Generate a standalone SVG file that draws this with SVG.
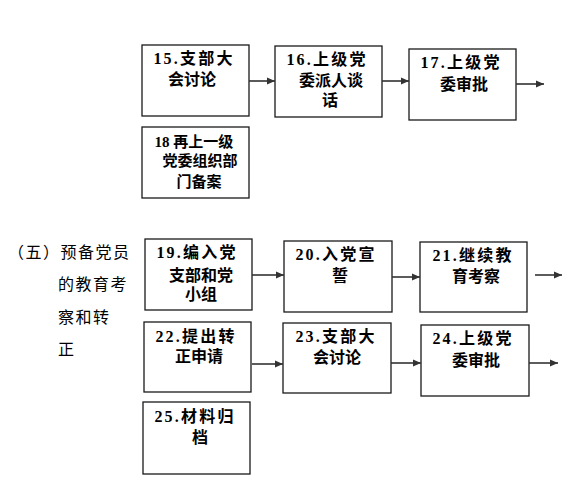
<svg xmlns="http://www.w3.org/2000/svg" width="588" height="500" viewBox="0 0 588 500">
<style>
.box{fill:#fff;stroke:#1a1a1a;stroke-width:1.3}
.t{font-family:"Liberation Serif","Noto Sans CJK SC",serif;font-weight:bold;font-size:16px;fill:#000;text-anchor:middle}
.f{letter-spacing:2.2px}
.s{font-size:15px}
.lab{font-family:"Liberation Serif","Noto Sans CJK SC",serif;font-size:16px;fill:#000;letter-spacing:1.5px}
.c{stroke:#333;stroke-width:1.6;fill:none;marker-end:url(#ah)}
</style>
<defs>
<marker id="ah" viewBox="0 0 10 10" refX="10" refY="5" markerWidth="8" markerHeight="8" markerUnits="userSpaceOnUse" orient="auto">
<path d="M0,0.5 L10,5 L0,9.5 z" fill="#333"/>
</marker>
</defs>
<g id="label">
<text class="lab" x="8" y="258">（五）预备党员</text>
<text class="lab" x="58" y="290">的教育考</text>
<text class="lab" x="58" y="323">察和转</text>
<text class="lab" x="58" y="355">正</text>
</g>
<g id="n15"><rect class="box" x="142" y="45" width="107" height="71"/>
<text class="t f" x="194" y="64">15.支部大</text><text class="t" x="192" y="85">会讨论</text></g>
<g id="n16"><rect class="box" x="275" y="46" width="107" height="71"/>
<text class="t f" x="327" y="65">16.上级党</text><text class="t" x="331" y="86">委派人谈</text><text class="t" x="330" y="106">话</text></g>
<g id="n17"><rect class="box" x="409" y="49" width="107" height="71"/>
<text class="t f" x="461" y="68">17.上级党</text><text class="t" x="464" y="90">委审批</text></g>
<g id="n18"><rect class="box" x="142" y="127" width="107" height="71"/>
<text class="t s" x="194" y="147">18 再上一级</text><text class="t s" x="200" y="166">党委组织部</text><text class="t s" x="199" y="187">门备案</text></g>
<g id="n19"><rect class="box" x="145" y="239" width="107" height="71"/>
<text class="t f" x="197" y="258">19.编入党</text><text class="t" x="201" y="281">支部和党</text><text class="t" x="201" y="300">小组</text></g>
<g id="n20"><rect class="box" x="284" y="241" width="108" height="71"/>
<text class="t f" x="336" y="260">20.入党宣</text><text class="t" x="340" y="281">誓</text></g>
<g id="n21"><rect class="box" x="420" y="242" width="107" height="70"/>
<text class="t f" x="473" y="261">21.继续教</text><text class="t" x="476" y="282">育考察</text></g>
<g id="n22"><rect class="box" x="144" y="322" width="107" height="70"/>
<text class="t f" x="196" y="342">22.提出转</text><text class="t" x="199" y="362">正申请</text></g>
<g id="n23"><rect class="box" x="283" y="323" width="108" height="70"/>
<text class="t f" x="336" y="342">23.支部大</text><text class="t" x="337" y="363">会讨论</text></g>
<g id="n24"><rect class="box" x="421" y="325" width="108" height="71"/>
<text class="t f" x="473" y="344">24.上级党</text><text class="t" x="476" y="366">委审批</text></g>
<g id="n25"><rect class="box" x="143" y="402" width="107" height="72"/>
<text class="t f" x="195" y="422">25.材料归</text><text class="t" x="200" y="443">档</text></g>
<g id="connectors">
<line class="c" x1="249" y1="81" x2="275" y2="81"/>
<line class="c" x1="382" y1="81" x2="409" y2="81"/>
<line class="c" x1="516" y1="84" x2="544" y2="84"/>
<line class="c" x1="252" y1="275" x2="284" y2="275"/>
<line class="c" x1="392" y1="277" x2="420" y2="277"/>
<line class="c" x1="535" y1="275" x2="562" y2="275"/>
<line class="c" x1="252" y1="364" x2="283" y2="364"/>
<line class="c" x1="391" y1="363" x2="421" y2="363"/>
<line class="c" x1="529" y1="363" x2="558" y2="363"/>
</g>
</svg>
